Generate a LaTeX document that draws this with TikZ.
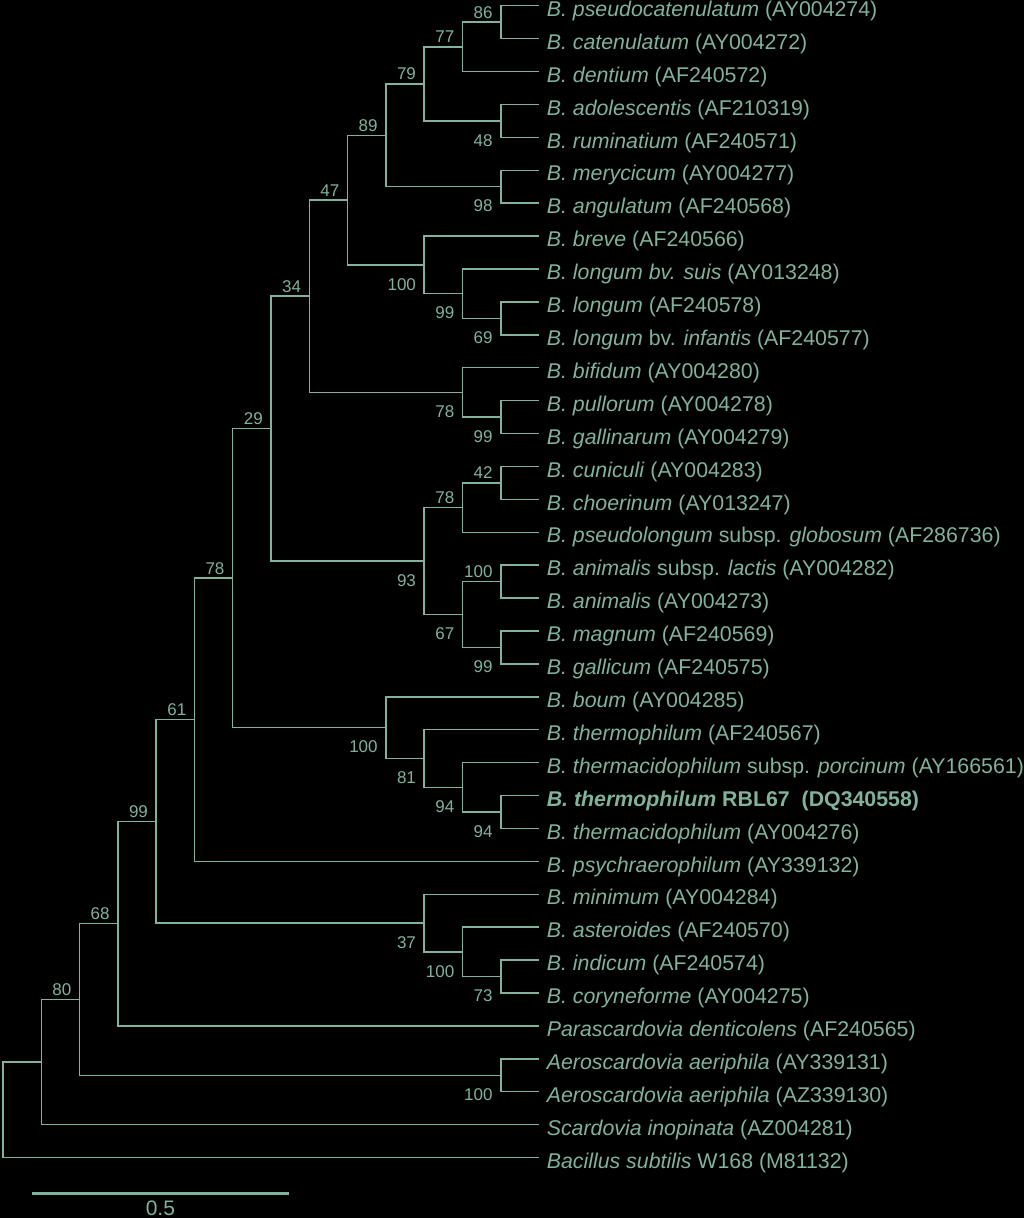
\documentclass[tikz,border=0pt]{standalone}
\usepackage{fontspec}
\setmainfont{Liberation Sans}
\usetikzlibrary{positioning}
\definecolor{treegreen}{RGB}{128,178,156}

\begin{document}
\begin{tikzpicture}[
  x=0.75pt, y=-24.6825pt,
  twig/.style={draw=treegreen, line width=1.1pt},
  taxon/.style={
    anchor=west, inner xsep=5.6pt, inner ysep=0pt,
    text height=16pt, text depth=0pt, text=treegreen,
    font=\fontsize{16}{18}\selectfont
  },
  bslabel/.style={anchor=base east, inner sep=0pt, text=treegreen,
    font=\fontsize{12.75}{15}\selectfont},
  bsabove/.style={bslabel, xshift=-6pt, yshift=3pt},
  bsbelow/.style={bslabel, xshift=-6pt, yshift=-18.9pt},
  scalebar/.style={draw=treegreen, line width=2.2pt},
  scalelabel/.style={anchor=base, inner sep=0pt, text=treegreen,
    font=\fontsize{15.75}{18}\selectfont},
]

\useasboundingbox (0,-0.1732) rectangle (1024,36.837);
\fill[black] (0,-0.1732) rectangle (1024,36.837);

% Taxa
\node[taxon] (t_pcat) at (539.1,0)  {\textit{B. pseudocatenulatum} (AY004274)};
\node[taxon] (t_cate) at (539.1,1)  {\textit{B. catenulatum} (AY004272)};
\node[taxon] (t_dent) at (539.1,2)  {\textit{B. dentium} (AF240572)};
\node[taxon] (t_adol) at (539.1,3)  {\textit{B. adolescentis} (AF210319)};
\node[taxon] (t_rumi) at (539.1,4)  {\textit{B. ruminatium} (AF240571)};
\node[taxon] (t_mery) at (539.1,5)  {\textit{B. merycicum} (AY004277)};
\node[taxon] (t_angu) at (539.1,6)  {\textit{B. angulatum} (AF240568)};
\node[taxon] (t_brev) at (539.1,7)  {\textit{B. breve} (AF240566)};
\node[taxon] (t_suis) at (539.1,8)  {\textit{B. longum bv. suis} (AY013248)};
\node[taxon] (t_long) at (539.1,9)  {\textit{B. longum} (AF240578)};
\node[taxon] (t_infa) at (539.1,10) {\textit{B. longum} bv. \textit{infantis} (AF240577)};
\node[taxon] (t_bifi) at (539.1,11) {\textit{B. bifidum} (AY004280)};
\node[taxon] (t_pull) at (539.1,12) {\textit{B. pullorum} (AY004278)};
\node[taxon] (t_gall) at (539.1,13) {\textit{B. gallinarum} (AY004279)};
\node[taxon] (t_cuni) at (539.1,14) {\textit{B. cuniculi} (AY004283)};
\node[taxon] (t_choe) at (539.1,15) {\textit{B. choerinum} (AY013247)};
\node[taxon] (t_glob) at (539.1,16) {\textit{B. pseudolongum} subsp. \textit{globosum} (AF286736)};
\node[taxon] (t_lact) at (539.1,17) {\textit{B. animalis} subsp. \textit{lactis} (AY004282)};
\node[taxon] (t_anim) at (539.1,18) {\textit{B. animalis} (AY004273)};
\node[taxon] (t_magn) at (539.1,19) {\textit{B. magnum} (AF240569)};
\node[taxon] (t_galc) at (539.1,20) {\textit{B. gallicum} (AF240575)};
\node[taxon] (t_boum) at (539.1,21) {\textit{B. boum} (AY004285)};
\node[taxon] (t_ther) at (539.1,22) {\textit{B. thermophilum} (AF240567)};
\node[taxon] (t_porc) at (539.1,23) {\textit{B. thermacidophilum} subsp. \textit{porcinum} (AY166561)};
\node[taxon] (t_rbl)  at (539.1,24) {\textbf{\textit{B. thermophilum} RBL67\ \ (DQ340558)}};
\node[taxon] (t_tacd) at (539.1,25) {\textit{B. thermacidophilum} (AY004276)};
\node[taxon] (t_psyc) at (539.1,26) {\textit{B. psychraerophilum} (AY339132)};
\node[taxon] (t_mini) at (539.1,27) {\textit{B. minimum} (AY004284)};
\node[taxon] (t_aste) at (539.1,28) {\textit{B. asteroides} (AF240570)};
\node[taxon] (t_indi) at (539.1,29) {\textit{B. indicum} (AF240574)};
\node[taxon] (t_cory) at (539.1,30) {\textit{B. coryneforme} (AY004275)};
\node[taxon] (t_para) at (539.1,31) {\textit{Parascardovia denticolens} (AF240565)};
\node[taxon] (t_aer1) at (539.1,32) {\textit{Aeroscardovia aeriphila} (AY339131)};
\node[taxon] (t_aer2) at (539.1,33) {\textit{Aeroscardovia aeriphila} (AZ339130)};
\node[taxon] (t_scar) at (539.1,34) {\textit{Scardovia inopinata} (AZ004281)};
\node[taxon] (t_bsub) at (539.1,35) {\textit{Bacillus subtilis} W168 (M81132)};

% catenulatum / adolescentis / angulatum clade
\coordinate (n_86) at (500.8,0.5);
\coordinate (n_77) at (462.5,1.25);
\coordinate (n_48) at (500.8,3.5);
\coordinate (n_79) at (424.2,2.375);
\coordinate (n_98) at (500.8,5.5);
\coordinate (n_89) at (385.9,3.9375);
\draw[twig] (n_86) |- (t_pcat.west) (n_86) |- (t_cate.west);
\draw[twig] (n_77) |- (n_86) (n_77) |- (t_dent.west);
\draw[twig] (n_48) |- (t_adol.west) (n_48) |- (t_rumi.west);
\draw[twig] (n_79) |- (n_77) (n_79) |- (n_48);
\draw[twig] (n_98) |- (t_mery.west) (n_98) |- (t_angu.west);
\draw[twig] (n_89) |- (n_79) (n_89) |- (n_98);
\node[bsabove] (b_86) at (n_86) {86};
\node[bsabove] (b_77) at (n_77) {77};
\node[bsbelow] (b_48) at (n_48) {48};
\node[bsabove] (b_79) at (n_79) {79};
\node[bsbelow] (b_98) at (n_98) {98};
\node[bsabove] (b_89) at (n_89) {89};

% longum clade
\coordinate (n_69)   at (500.8,9.5);
\coordinate (n_99a)  at (462.5,8.75);
\coordinate (n_100a) at (424.2,7.875);
\coordinate (n_47)   at (347.6,5.90625);
\draw[twig] (n_69) |- (t_long.west) (n_69) |- (t_infa.west);
\draw[twig] (n_99a) |- (t_suis.west) (n_99a) |- (n_69);
\draw[twig] (n_100a) |- (t_brev.west) (n_100a) |- (n_99a);
\draw[twig] (n_47) |- (n_89) (n_47) |- (n_100a);
\node[bsbelow] (b_69)   at (n_69)   {69};
\node[bsbelow] (b_99a)  at (n_99a)  {99};
\node[bsbelow] (b_100a) at (n_100a) {100};
\node[bsabove] (b_47)   at (n_47)   {47};

% bifidum clade
\coordinate (n_99b) at (500.8,12.5);
\coordinate (n_78a) at (462.5,11.75);
\coordinate (n_34)  at (309.3,8.828);
\draw[twig] (n_99b) |- (t_pull.west) (n_99b) |- (t_gall.west);
\draw[twig] (n_78a) |- (t_bifi.west) (n_78a) |- (n_99b);
\draw[twig] (n_34) |- (n_47) (n_34) |- (n_78a);
\node[bsbelow] (b_99b) at (n_99b) {99};
\node[bsbelow] (b_78a) at (n_78a) {78};
\node[bsabove] (b_34)  at (n_34)  {34};

% pseudolongum / animalis clade
\coordinate (n_42)   at (500.8,14.5);
\coordinate (n_78b)  at (462.5,15.25);
\coordinate (n_100b) at (500.8,17.5);
\coordinate (n_99c)  at (500.8,19.5);
\coordinate (n_67)   at (462.5,18.5);
\coordinate (n_93)   at (424.2,16.875);
\coordinate (n_29)   at (271.0,12.852);
\draw[twig] (n_42) |- (t_cuni.west) (n_42) |- (t_choe.west);
\draw[twig] (n_78b) |- (n_42) (n_78b) |- (t_glob.west);
\draw[twig] (n_100b) |- (t_lact.west) (n_100b) |- (t_anim.west);
\draw[twig] (n_99c) |- (t_magn.west) (n_99c) |- (t_galc.west);
\draw[twig] (n_67) |- (n_100b) (n_67) |- (n_99c);
\draw[twig] (n_93) |- (n_78b) (n_93) |- (n_67);
\draw[twig] (n_29) |- (n_34) (n_29) |- (n_93);
\node[bsabove] (b_42)   at (n_42)   {42};
\node[bsabove] (b_78b)  at (n_78b)  {78};
\node[bsabove] (b_100b) at (n_100b) {100};
\node[bsbelow] (b_99c)  at (n_99c)  {99};
\node[bsbelow] (b_67)   at (n_67)   {67};
\node[bsbelow] (b_93)   at (n_93)   {93};
\node[bsabove] (b_29)   at (n_29)   {29};

% thermophilum clade
\coordinate (n_94a)  at (500.8,24.5);
\coordinate (n_94b)  at (462.5,23.75);
\coordinate (n_81)   at (424.2,22.875);
\coordinate (n_100c) at (385.9,21.9375);
\coordinate (n_78c)  at (232.7,17.395);
\coordinate (n_61)   at (194.5,21.697);
\draw[twig] (n_94a) |- (t_rbl.west) (n_94a) |- (t_tacd.west);
\draw[twig] (n_94b) |- (t_porc.west) (n_94b) |- (n_94a);
\draw[twig] (n_81) |- (t_ther.west) (n_81) |- (n_94b);
\draw[twig] (n_100c) |- (t_boum.west) (n_100c) |- (n_81);
\draw[twig] (n_78c) |- (n_29) (n_78c) |- (n_100c);
\draw[twig] (n_61) |- (n_78c) (n_61) |- (t_psyc.west);
\node[bsbelow] (b_94a)  at (n_94a)  {94};
\node[bsbelow] (b_94b)  at (n_94b)  {94};
\node[bsbelow] (b_81)   at (n_81)   {81};
\node[bsbelow] (b_100c) at (n_100c) {100};
\node[bsabove] (b_78c)  at (n_78c)  {78};
\node[bsabove] (b_61)   at (n_61)   {61};

% asteroides clade and outgroups
\coordinate (n_73)   at (500.8,29.5);
\coordinate (n_100d) at (462.5,28.75);
\coordinate (n_37)   at (424.2,27.875);
\coordinate (n_99d)  at (156.2,24.786);
\coordinate (n_68)   at (117.9,27.893);
\coordinate (n_100e) at (500.8,32.5);
\coordinate (n_80)   at (79.6,30.197);
\coordinate (n_sc)   at (41.3,32.098);
\coordinate (n_root) at (3.0,33.549);
\draw[twig] (n_73) |- (t_indi.west) (n_73) |- (t_cory.west);
\draw[twig] (n_100d) |- (t_aste.west) (n_100d) |- (n_73);
\draw[twig] (n_37) |- (t_mini.west) (n_37) |- (n_100d);
\draw[twig] (n_99d) |- (n_61) (n_99d) |- (n_37);
\draw[twig] (n_68) |- (n_99d) (n_68) |- (t_para.west);
\draw[twig] (n_100e) |- (t_aer1.west) (n_100e) |- (t_aer2.west);
\draw[twig] (n_80) |- (n_68) (n_80) |- (n_100e);
\draw[twig] (n_sc) |- (n_80) (n_sc) |- (t_scar.west);
\draw[twig] (n_root) |- (n_sc) (n_root) |- (t_bsub.west);
\node[bsbelow] (b_73)   at (n_73)   {73};
\node[bsbelow] (b_100d) at (n_100d) {100};
\node[bsbelow] (b_37)   at (n_37)   {37};
\node[bsabove] (b_99d)  at (n_99d)  {99};
\node[bsabove] (b_68)   at (n_68)   {68};
\node[bsbelow] (b_100e) at (n_100e) {100};
\node[bsabove] (b_80)   at (n_80)   {80};

% scale bar
\coordinate (s_a) at (31.7,36.086);
\coordinate (s_b) at (289.0,36.086);
\draw[scalebar] (s_a) -- (s_b);
\node[scalelabel] (s_lab) at (160.4,36.76) {0.5};

\end{tikzpicture}
\end{document}
